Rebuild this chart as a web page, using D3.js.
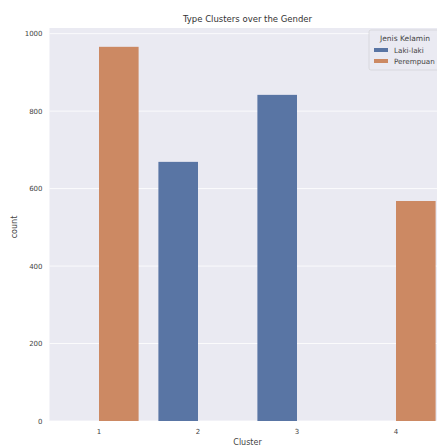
<!DOCTYPE html>
<html><head><meta charset="utf-8">
<script src="https://cdn.jsdelivr.net/npm/d3@7"></script>
<style>body{margin:0;background:#fff;} text{font-family:"DejaVu Sans",sans-serif;}</style>
</head><body>
<svg id="c" width="437" height="446"></svg>
<script>
const clusters = ["1","2","3","4"];
const genders = ["Laki-laki","Perempuan"];
const lakiCounts = [0, 669, 842, 0];
const perempuanCounts = [966, 0, 0, 568];
const yTicks = [0,200,400,600,800,1000];
const colors = ["#5975a4","#cc8963"];

const svg = d3.select("#c");
const mL = 49.5, mR = 445.5, mT = 28, mB = 421;
const x = d3.scaleBand().domain(clusters).range([mL,mR]).paddingInner(0.2).paddingOuter(0.1);
const xs = d3.scaleBand().domain(genders).range([0,x.bandwidth()]);
const y = d3.scaleLinear().domain([0,1014.6]).range([mB,mT]);

svg.append("rect").attr("x",mL).attr("y",mT).attr("width",mR-mL).attr("height",mB-mT).attr("fill","#eaeaf2");
svg.append("g").selectAll("line").data(yTicks).join("line")
  .attr("x1",mL).attr("x2",mR).attr("y1",d=>y(d)).attr("y2",d=>y(d)).attr("stroke","#fff").attr("stroke-width",0.8);

const series = [lakiCounts, perempuanCounts];
series.forEach((vals,gi)=>{
  svg.append("g").selectAll("rect").data(clusters).join("rect")
    .attr("x",(c)=>x(c)+xs(genders[gi]))
    .attr("width",xs.bandwidth())
    .attr("y",(c,i)=>y(vals[i]))
    .attr("height",(c,i)=>y(0)-y(vals[i]))
    .attr("fill",colors[gi]);
});

const yAxis = svg.append("g").attr("transform",`translate(${mL},0)`).call(d3.axisLeft(y).tickValues(yTicks).tickFormat(d3.format("d")).tickSize(0).tickPadding(7));
yAxis.select(".domain").remove();
yAxis.selectAll("text").attr("font-size",7).attr("fill","#444");
const xAxis = svg.append("g").attr("transform",`translate(0,${mB})`).call(d3.axisBottom(x).tickSize(0).tickPadding(8));
xAxis.select(".domain").remove();
xAxis.selectAll("text").attr("font-size",7).attr("fill","#444");

svg.append("text").attr("x",(mL+mR)/2).attr("y",22).attr("text-anchor","middle").attr("font-size",8.5).attr("fill","#333").text("Type Clusters over the Gender");
svg.append("text").attr("x",(mL+mR)/2).attr("y",445).attr("text-anchor","middle").attr("font-size",8).attr("fill","#444").text("Cluster");
svg.append("text").attr("transform","translate(17,227) rotate(-90)").attr("text-anchor","middle").attr("font-size",8).attr("fill","#444").text("count");

const lg = svg.append("g").attr("transform","translate(369,30)");
lg.append("rect").attr("width",78).attr("height",40).attr("rx",2).attr("fill","#eaeaf2").attr("stroke","#ccc").attr("stroke-width",0.6).attr("opacity",0.9);
lg.append("text").attr("x",36).attr("y",11).attr("text-anchor","middle").attr("font-size",7.5).attr("fill","#444").text("Jenis Kelamin");
genders.forEach((g,i)=>{
  lg.append("rect").attr("x",5).attr("y",18+i*11).attr("width",14).attr("height",4).attr("fill",colors[i]);
  lg.append("text").attr("x",25).attr("y",23+i*11).attr("font-size",7.2).attr("fill","#444").text(g);
});
</script>
</body></html>
